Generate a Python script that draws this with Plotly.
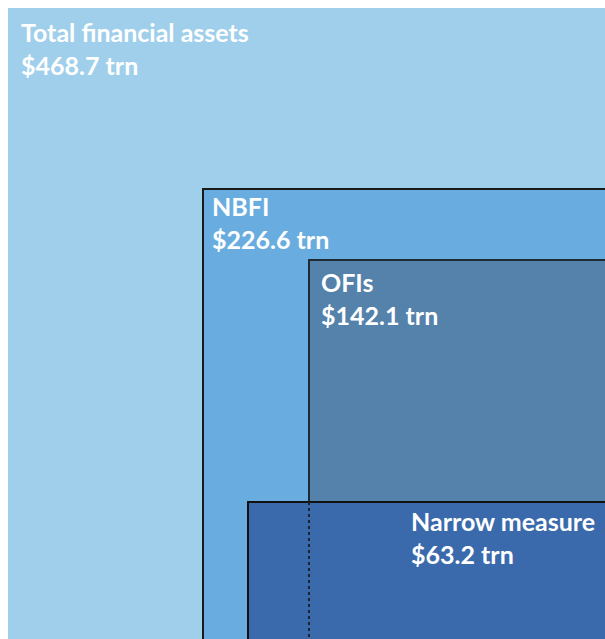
import plotly.graph_objects as go

# Data
categories = ["Total financial assets", "NBFI", "OFIs", "Narrow measure"]
values_trn = [468.7, 226.6, 142.1, 63.2]
unit = "trn"

# Layout / style (pixel space of the figure)
W, H = 605, 639
rect_left = [8, 203, 309, 248]
rect_top = [8, 189, 260, 502]
fills = ["#9FCFEB", "#69ADE0", "#5482AB", "#3A6AAC"]
borders = [None, "#1a1a1a", "#1f2a36", "#111111"]
label_x = [19, 210, 319, 409]
label_cap_top = [25, 199, 275, 514]
FONT = "Lato"
FS = 25

fig = go.Figure()
shapes = []
for i, cat in enumerate(categories):
    shapes.append(dict(
        type="rect", xref="x", yref="y",
        x0=rect_left[i], y0=rect_top[i], x1=W + 20, y1=H + 20,
        fillcolor=fills[i],
        line=dict(color=borders[i] or fills[i], width=2 if borders[i] else 0),
        layer="below",
    ))
# dotted continuation of OFI left edge through the narrow measure box
shapes.append(dict(type="line", xref="x", yref="y",
                   x0=rect_left[2], x1=rect_left[2], y0=rect_top[3], y1=H + 20,
                   line=dict(color="#1a2530", width=2, dash="dot")))

annotations = []
for i, cat in enumerate(categories):
    for j, txt in enumerate([cat, f"${values_trn[i]:.1f} {unit}"]):
        annotations.append(dict(
            x=label_x[i], y=label_cap_top[i] + j * 33 - 10,
            xref="x", yref="y", xanchor="left", yanchor="top",
            text=f"<b>{txt}</b>", showarrow=False,
            font=dict(family=FONT, size=FS, color="white"),
        ))

fig.add_trace(go.Scatter(x=[0, W], y=[0, H], mode="markers",
                         marker=dict(opacity=0), hoverinfo="skip", showlegend=False))
fig.update_layout(
    width=W, height=H, margin=dict(l=0, r=0, t=0, b=0),
    paper_bgcolor="white", plot_bgcolor="white",
    xaxis=dict(range=[0, W], visible=False, fixedrange=True),
    yaxis=dict(range=[H, 0], visible=False, fixedrange=True),
    shapes=shapes, annotations=annotations,
)
fig.write_html("out.html", config={"displayModeBar": False},
               post_script="document.body.style.margin='0';document.body.style.overflow='hidden';")
